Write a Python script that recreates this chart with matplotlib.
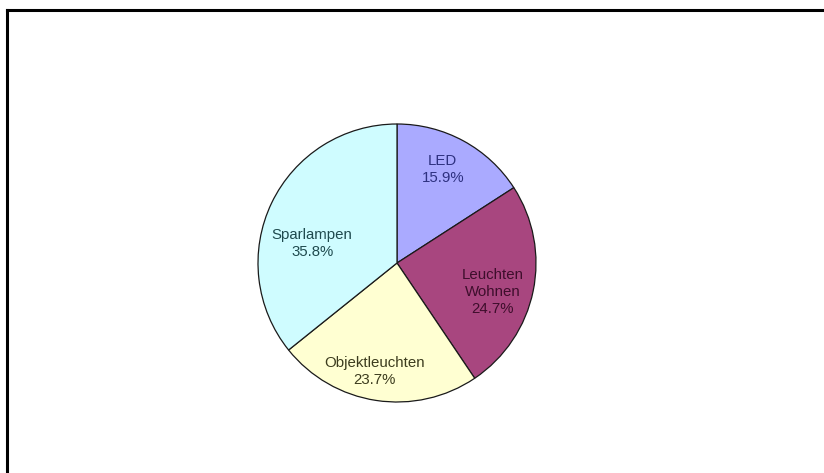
import matplotlib
matplotlib.use("Agg")
import matplotlib.pyplot as plt
from matplotlib.lines import Line2D

categories = ["LED", "Leuchten\nWohnen", "Objektleuchten", "Sparlampen"]
values = [15.9, 24.7, 23.7, 35.8]
colors = ["#AAAAFF", "#A8467F", "#FFFFD2", "#CFFCFF"]
text_colors = ["#2E3180", "#3E0E2C", "#3C3C1E", "#1F4A4E"]
label_pos = [(0.33, 0.67), (0.69, -0.21), (-0.16, -0.78), (-0.61, 0.14)]

plt.rcParams['font.family'] = ['Liberation Sans', 'DejaVu Sans']

W, H = 824, 473
fig = plt.figure(figsize=(W / 100, H / 100), dpi=100)
fig.patch.set_facecolor("white")

# top and left frame lines
fig.add_artist(Line2D([7 / W, 1], [1 - 10 / H, 1 - 10 / H], color="black", lw=2.2, transform=fig.transFigure))
fig.add_artist(Line2D([7 / W, 7 / W], [0, 1 - 10 / H], color="black", lw=2.2, transform=fig.transFigure))

cx, cy, r = 397, 263, 139
ax = fig.add_axes([(cx - r) / W, (H - cy - r) / H, 2 * r / W, 2 * r / H])
wedges, _ = ax.pie(values, colors=colors, startangle=90, counterclock=False,
                   radius=1.0, wedgeprops=dict(edgecolor="#1a1a1a", linewidth=0.9))
ax.set_xlim(-1, 1)
ax.set_ylim(-1, 1)
ax.set_aspect("auto")
ax.axis("off")

for cat, v, tc, (x, y) in zip(categories, values, text_colors, label_pos):
    ax.text(x, y, f"{cat}\n{v:.1f}%", ha="center", va="center", fontsize=10.8,
            color=tc, linespacing=1.28)

fig.savefig("out.png", dpi=100, facecolor="white")
